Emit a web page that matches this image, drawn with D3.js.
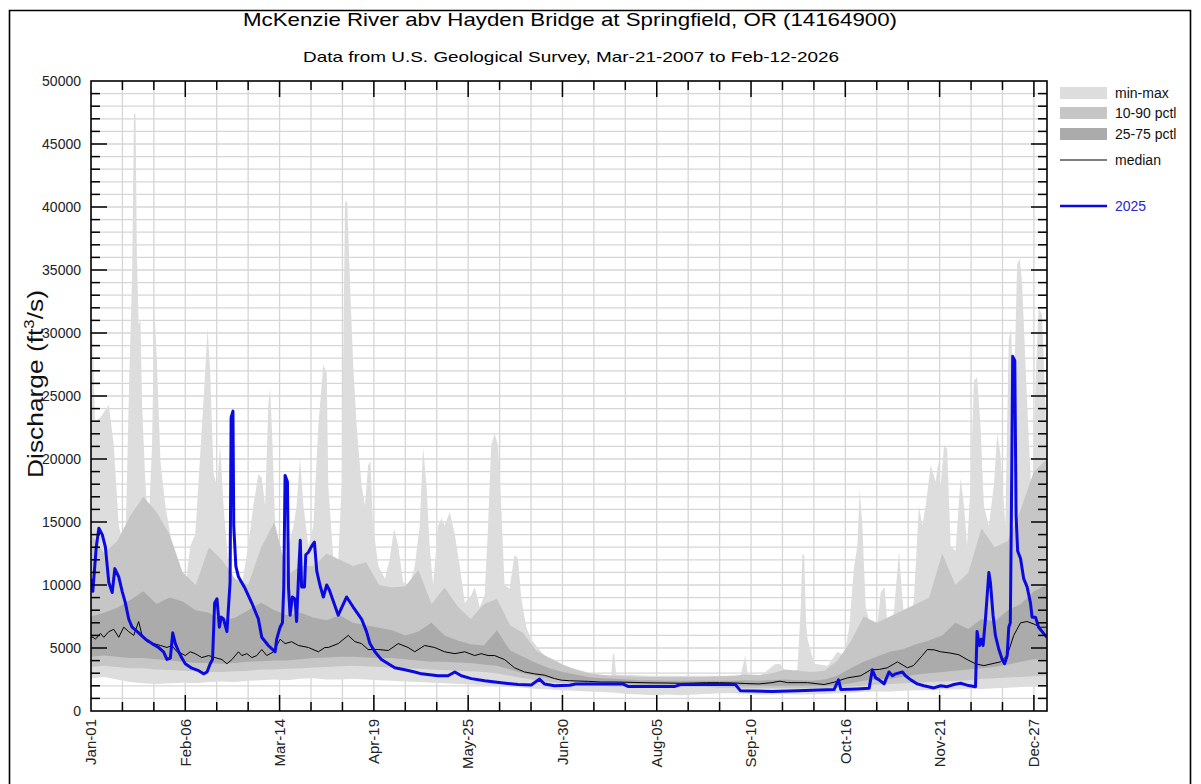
<!DOCTYPE html>
<html>
<head>
<meta charset="utf-8">
<script src="https://cdn.jsdelivr.net/npm/d3@7"></script>
<style>
  html, body { margin: 0; padding: 0; background: #fff; }
  svg { display: block; font-family: "Liberation Sans", Arial, Helvetica, sans-serif; }
</style>
</head>
<body>
<svg id="chart" width="1201" height="784"></svg>
<script>
// ---------------- DATA ----------------
const titleText = "McKenzie River abv Hayden Bridge at Springfield, OR (14164900)";
const subtitleText = "Data from U.S. Geological Survey, Mar-21-2007 to Feb-12-2026";
const yTickValues = [0, 5000, 10000, 15000, 20000, 25000, 30000, 35000, 40000, 45000, 50000];
const xTickDays = [0, 36, 72, 108, 144, 180, 216, 252, 288, 324, 360];
const xTickLabels = ["Jan-01", "Feb-06", "Mar-14", "Apr-19", "May-25", "Jun-30", "Aug-05", "Sep-10", "Oct-16", "Nov-21", "Dec-27"];
const legendLabels = ["min-max", "10-90 pctl", "25-75 pctl", "median", "2025"];

// day-of-year grid (every 5 days) for percentile statistics
const statDays = [0,5,10,15,20,25,30,35,40,45,50,55,60,65,70,75,80,85,90,95,100,105,110,115,120,125,130,135,140,145,150,155,160,165,170,175,180,185,190,195,200,205,210,215,220,225,230,235,240,245,250,255,260,265,270,275,280,285,290,295,300,305,310,315,320,325,330,335,340,345,350,355,360,365];

const minFlow = [2600,2700,2500,2300,2200,2150,2200,2250,2200,2300,2350,2300,2400,2450,2500,2450,2550,2600,2500,2500,2550,2500,2450,2400,2350,2300,2250,2200,2150,2100,2050,1950,1900,1850,1750,1700,1650,1600,1550,1500,1450,1350,1300,1250,1300,1250,1300,1350,1400,1400,1350,1300,1300,1350,1300,1300,1350,1400,1450,1500,1550,1550,1600,1650,1650,1700,1700,1750,1750,1800,1850,1900,1950,2000];

const p10 = [3500,3600,3500,3400,3400,3300,3250,3200,3150,3100,3100,3150,3200,3300,3300,3350,3400,3450,3500,3550,3600,3550,3500,3450,3400,3350,3300,3250,3200,3150,3100,3000,2800,2600,2450,2300,2200,2100,2050,2000,1950,1950,1950,1950,1950,1900,1900,1900,1850,1850,1800,1800,1800,1800,1800,1800,1800,1850,1950,2000,2100,2150,2200,2250,2300,2350,2400,2450,2550,2600,2650,2700,2750,2800];

const p25 = [4300,4400,4300,4200,4200,4100,4000,3900,3800,3800,3750,3800,3900,3950,4000,4000,4100,4200,4250,4300,4300,4250,4200,4200,4100,4000,3900,3900,3850,3800,3700,3600,3300,3000,2800,2600,2450,2350,2250,2200,2150,2150,2100,2100,2100,2100,2100,2100,2050,2050,2000,2000,2000,2000,2000,2000,2000,2050,2200,2400,2500,2550,2700,2900,3000,3100,3200,3300,3400,3500,3700,3900,4100,4100];

const p75 = [7500,7800,8200,8800,9500,8500,9000,8700,8000,7800,7200,7400,8000,8600,8000,7600,7800,7400,7200,7600,7000,6800,6600,6400,6000,6300,7000,6000,5600,5300,5200,6400,4800,4300,3800,3400,3100,2900,2700,2600,2550,2500,2450,2450,2400,2400,2400,2400,2400,2400,2450,2400,2450,2500,2450,2400,2500,2800,3400,3900,4300,4700,4900,5300,5600,6000,7000,6500,7300,7100,8000,8500,9500,10000];

const p90 = [14000,12500,13500,15500,17000,15800,14000,11000,10000,13000,12000,10500,10000,13000,15000,10800,11500,11500,12500,12000,11500,11800,10000,9800,9900,11200,8500,9800,8300,7300,8500,8900,6800,6200,4800,4200,3700,3300,3000,2850,2800,2750,2700,2700,2700,2700,2700,2700,2750,2800,2900,2850,3000,3300,3200,3100,3200,4000,5500,7500,7000,7500,8000,8500,9000,12500,10000,11000,14500,13000,13500,16000,19000,20000];

// daily median: [day of year, discharge]
const medianFlow = [[0,5850],[0.8,5850],[1.7,5700],[3.6,6160],[4.9,5850],[6.8,6300],[8.7,6480],[10.6,5850],[12.5,6650],[14.4,6300],[16.3,6000],[18.2,7100],[19.5,6000],[21.4,5500],[23.9,5350],[26.5,5200],[29,5040],[30.9,5200],[32.8,4700],[34.7,4550],[36,4400],[37.9,4700],[39.8,4550],[42.3,4240],[44.9,4400],[47.4,4240],[50,4080],[51.9,3750],[53.8,4080],[56.3,4700],[57.6,4400],[59.5,4550],[61.4,4240],[63.3,4400],[65.2,4880],[67.1,4400],[69.7,4700],[72.2,5700],[74.1,5350],[76.6,5500],[79.2,5200],[83,5040],[86.8,4700],[89.3,5040],[90.6,5040],[94.4,5350],[98.2,6000],[100.8,5500],[103.3,5350],[105.8,4880],[109.7,4880],[113.5,4800],[117.3,5350],[121.1,5040],[123.6,4700],[127.4,5200],[131.2,5040],[135,4700],[138.9,4550],[142.7,4700],[146.5,4400],[149,4550],[151.6,4400],[154.1,4400],[157.9,4080],[161.7,3430],[165.5,3100],[169.3,2950],[173.1,2850],[177,2570],[179.5,2450],[182.8,2400],[190,2350],[195,2300],[200,2300],[205,2280],[210,2250],[215,2230],[220,2220],[225,2200],[230,2220],[235,2250],[240,2250],[245,2230],[250,2180],[255,2150],[260,2250],[263,2370],[266,2250],[270,2250],[273.6,2250],[279.9,2100],[284,2300],[288.8,2630],[293.9,2800],[297.7,3270],[301,3300],[304,3430],[307.9,3900],[311.7,3430],[314,3600],[317.4,4400],[319.3,4880],[322,4850],[324.4,4700],[328,4600],[331.4,4460],[334.5,4080],[337.7,3750],[340.9,3600],[344,3750],[347.2,3900],[349.8,4400],[352.3,6000],[354.9,7000],[357.4,7100],[360,6900],[362.5,6650],[365,6650]];

// daily maximum peaks: [day of year, discharge]
const maxFlow = [[0,22000],[0.6,31000],[1.5,23000],[3.6,23300],[6.8,24300],[8.7,21100],[10.6,14700],[13.1,12700],[14.6,26400],[15.7,34600],[16.4,47400],[17.0,47400],[17.5,36500],[18.2,30700],[18.9,31000],[19.5,24300],[20.8,17900],[22,14700],[23.3,21100],[24.2,32000],[25.2,27500],[26.5,19800],[28.4,16300],[31,13100],[33.5,10500],[36,9850],[37.9,13100],[39.8,14000],[41.7,20400],[43.6,26900],[44.5,30400],[45.5,26900],[46.8,18800],[48.1,17900],[49.3,21100],[50.6,16300],[52.5,11500],[53.8,10200],[57.6,10000],[60,13100],[62,16300],[63.9,18800],[65.2,18500],[66.5,16300],[67.7,24300],[68.4,25600],[69.3,21100],[70.3,14700],[72.2,11500],[74.1,12000],[75.4,13100],[77.3,14700],[78.5,16300],[79.8,20100],[81.1,16300],[83,13100],[84.9,14700],[86.8,22700],[88.7,27500],[90,26800],[90.6,17900],[92.5,12100],[94.4,12000],[95.7,17900],[97,40300],[97.8,40500],[98.9,33900],[100.1,27500],[101.4,22700],[103.3,17900],[104.6,16300],[105.8,19500],[106.7,19800],[107.7,14700],[109.7,11500],[112.2,10500],[114.1,12100],[115.7,14500],[117.3,13100],[119.2,10200],[121.7,10000],[123.6,11500],[125.5,14700],[126.8,20900],[128.1,17900],[129.3,13100],[130.6,10000],[132.5,14700],[133.8,15300],[135,14700],[137,15800],[138.9,14000],[140.8,11500],[142.7,8600],[145.2,9200],[146.5,9850],[148.4,8250],[150.3,9200],[151.6,14700],[152.8,21100],[154.1,22000],[155.4,21100],[156.6,16300],[157.9,10000],[159.8,9700],[161.7,12400],[163,12100],[164.3,8900],[166.2,6650],[168.1,5700],[170.7,5000],[173.1,4400],[176.9,4080],[179.5,3750],[182.8,3430],[186,3270],[192,2950],[198.6,2800],[199.3,4560],[199.8,4500],[200.5,2900],[213.8,2800],[226.5,2800],[239.2,2800],[248,2800],[249.8,4400],[250.8,2900],[255.7,2800],[261,3700],[263,3750],[266,3000],[269.7,3300],[271,8250],[271.6,12500],[272.3,12300],[273,7000],[273.6,5700],[276.1,3750],[281.2,3600],[285,4700],[287.6,4400],[289.5,6650],[290.7,9850],[291.4,11500],[292.6,13100],[293.5,17600],[294.5,14700],[295.8,8250],[297.7,6650],[300.3,7000],[301.5,9400],[303,9850],[304.7,5000],[306.6,8000],[308.5,12700],[309.8,8900],[311.7,5000],[314.2,8900],[316.1,16300],[317.4,14700],[318.7,16300],[320.6,19500],[322.5,18200],[323.5,19800],[324.4,17900],[325.7,21100],[326.9,20800],[328.2,13100],[330.1,12700],[332,18500],[333.3,16300],[334.5,13100],[335.8,17900],[337.1,26200],[338.3,26500],[339.6,22700],[340.9,16300],[342.8,14700],[344.7,17900],[346,22000],[347.2,20400],[349.1,14700],[350.4,29400],[351.3,30400],[352.3,24300],[353.6,35500],[354.6,35900],[355.5,33900],[356.8,27500],[358,21700],[359.3,16300],[360.6,25900],[361.8,32000],[363.1,31400],[364.4,24300],[365,20000]];

// 2025 daily discharge: [day of year, discharge]
const flow2025 = [[0,10500],[0.7,9500],[2.0,13000],[3.0,14500],[4.3,14000],[5.5,13000],[6.8,10200],[8.1,9400],[9.1,11300],[10.6,10650],[11.9,9500],[13.1,8600],[14.4,7300],[15.7,6650],[18.2,6200],[20.8,5700],[23.3,5350],[25.8,5040],[27.7,4700],[29.0,4100],[30.3,4200],[31.2,6200],[32.2,5350],[33.5,4700],[34.7,4200],[36,3750],[38.5,3400],[41.1,3200],[43,2950],[44.3,3100],[45.5,3750],[46.4,4080],[47.2,8570],[48.1,8900],[49,6650],[49.7,7450],[50.6,7300],[51.9,6300],[53.1,10200],[53.5,23300],[54.2,23800],[54.5,14700],[55.3,11500],[56.3,10650],[58.9,9700],[61.4,8570],[63.9,7300],[65.2,5850],[67.7,5200],[70.3,4700],[70.9,5700],[72.2,6650],[73.1,7000],[73.6,9850],[74.1,18700],[75,18200],[75.4,9850],[76,7600],[76.9,9050],[77.9,8900],[78.5,7100],[79.4,11500],[79.9,13550],[80.4,9850],[81.5,9850],[82,12400],[83,12600],[84.3,13100],[85.3,13400],[86.2,11100],[87.4,10000],[88.7,9050],[90,10000],[91,9600],[94.4,7600],[97.6,9050],[100.1,8250],[103.3,7300],[105.2,6300],[106.5,5350],[108.4,4700],[110.9,4080],[113.5,3750],[116,3430],[119.8,3270],[123.6,3100],[126.2,2950],[132.5,2800],[136.3,2800],[138.9,3100],[141.4,2800],[145.2,2570],[150.3,2400],[156.6,2250],[163,2100],[168.1,2070],[171.2,2530],[173.1,2150],[177,2000],[182.8,2050],[185,2150],[203,2150],[205,1950],[223,1950],[225,2100],[246,2100],[248,1600],[260,1550],[270,1600],[283.7,1700],[285.4,2470],[286.3,1700],[292.6,1750],[297.1,1800],[298.3,3270],[299.6,2630],[300.9,2470],[302.8,2150],[304.7,3100],[306,2800],[307.2,2950],[309.8,3100],[311,2800],[313,2470],[315.5,2150],[318,2000],[321.8,1830],[324.4,2000],[326.9,1930],[329.5,2100],[332,2200],[334.5,2050],[337.7,1930],[338.3,6300],[339.2,5200],[339.9,5700],[340.6,5200],[341.5,7300],[342.8,11000],[343.4,10200],[344.4,7600],[345.3,6000],[346.6,4900],[347.9,4080],[348.8,3750],[349.8,4400],[350.4,6650],[351,7000],[351.4,15600],[351.9,28150],[352.7,27800],[353.2,15500],[353.8,12700],[354.9,12100],[356.1,10500],[357.4,9850],[358.7,8570],[359.3,7450],[360.6,7450],[361.8,6650],[363.7,6160],[365,5850]];

// ---------------- STYLE / LAYOUT ----------------
const colMinMax = "#dddddd", col1090 = "#c6c6c6", col2575 = "#ababab";
const blue = "#0a0ae0";
const plot = { left: 91, right: 1047, top: 81, bottom: 711 };

const svg = d3.select("#chart");
const x = d3.scaleLinear().domain([0, 365]).range([plot.left, plot.right]);
const y = d3.scaleLinear().domain([0, 50000]).range([plot.bottom, plot.top]);

// outer frame
svg.append("path")
  .attr("d", "M9.5,790 L9.5,10.5 L1190.5,10.5 L1190.5,790")
  .attr("fill", "none").attr("stroke", "#000").attr("stroke-width", 1.6);

// titles
svg.append("text").attr("x", 570).attr("y", 26).attr("text-anchor", "middle")
  .attr("font-size", 19).attr("textLength", 654).attr("lengthAdjust", "spacingAndGlyphs")
  .text(titleText);
svg.append("text").attr("x", 571).attr("y", 62).attr("text-anchor", "middle")
  .attr("font-size", 15).attr("textLength", 536).attr("lengthAdjust", "spacingAndGlyphs")
  .text(subtitleText);

// gridlines
const grid = svg.append("g");
grid.selectAll("line.v").data(d3.range(12, 365, 12)).join("line")
  .attr("x1", d => x(d)).attr("x2", d => x(d)).attr("y1", plot.top).attr("y2", plot.bottom)
  .attr("stroke", "#d6d6d6").attr("stroke-width", 1.3);
grid.selectAll("line.h").data(d3.range(1000, 50000, 1000)).join("line")
  .attr("x1", plot.left).attr("x2", plot.right).attr("y1", d => y(d)).attr("y2", d => y(d))
  .attr("stroke", "#d6d6d6").attr("stroke-width", 1.3);

// clip to plot area
svg.append("clipPath").attr("id", "pc").append("rect")
  .attr("x", plot.left).attr("y", plot.top).attr("width", plot.right - plot.left).attr("height", plot.bottom - plot.top);
const bands = svg.append("g").attr("clip-path", "url(#pc)");

// min-max band (max peaks forward, min back)
const lineGen = d3.line().x(d => x(d[0])).y(d => y(d[1]));
const minPairs = statDays.map((d, i) => [d, minFlow[i]]).reverse();
bands.append("path").attr("d", lineGen(maxFlow.concat(minPairs)) + "Z").attr("fill", colMinMax);

const area = (lo, hi) => d3.area().x((d, i) => x(statDays[i])).y0((d, i) => y(lo[i])).y1((d, i) => y(hi[i]));
bands.append("path").attr("d", area(p10, p90)(statDays)).attr("fill", col1090);
bands.append("path").attr("d", area(p25, p75)(statDays)).attr("fill", col2575);

// median
bands.append("path").attr("d", lineGen(medianFlow))
  .attr("fill", "none").attr("stroke", "#000").attr("stroke-width", 1);

// 2025
bands.append("path").attr("d", lineGen(flow2025))
  .attr("fill", "none").attr("stroke", blue).attr("stroke-width", 3).attr("stroke-linejoin", "round");

// axes frame
svg.append("rect").attr("x", plot.left).attr("y", plot.top)
  .attr("width", plot.right - plot.left).attr("height", plot.bottom - plot.top)
  .attr("fill", "none").attr("stroke", "#000").attr("stroke-width", 1.6);

// ticks
const tk = svg.append("g").attr("stroke", "#000").attr("stroke-width", 1.5);
d3.range(1000, 50000, 1000).forEach(v => {
  const L = v % 5000 === 0 ? 16 : 9;
  tk.append("line").attr("x1", plot.left).attr("x2", plot.left + L).attr("y1", y(v)).attr("y2", y(v));
  tk.append("line").attr("x1", plot.right).attr("x2", plot.right - L).attr("y1", y(v)).attr("y2", y(v));
});
d3.range(12, 365, 12).forEach(d => {
  const L = d % 36 === 0 ? 16 : 9;
  tk.append("line").attr("x1", x(d)).attr("x2", x(d)).attr("y1", plot.bottom).attr("y2", plot.bottom - L);
  tk.append("line").attr("x1", x(d)).attr("x2", x(d)).attr("y1", plot.top).attr("y2", plot.top + L);
});

// tick labels
svg.append("g").selectAll("text").data(yTickValues).join("text")
  .attr("x", 81).attr("y", d => y(d)).attr("dy", "0.35em").attr("text-anchor", "end")
  .attr("font-size", 14).attr("fill", "#222").text(d => d);
svg.append("g").selectAll("text").data(xTickDays).join("text")
  .attr("transform", d => `translate(${x(d)},719) rotate(-90)`)
  .attr("dy", "0.35em").attr("text-anchor", "end")
  .attr("font-size", 15).attr("fill", "#222").text((d, i) => xTickLabels[i]);

// y axis title
const yt = svg.append("text").attr("transform", "translate(43,384) rotate(-90)")
  .attr("text-anchor", "middle").attr("font-size", 22).attr("fill", "#111")
  .attr("textLength", 188).attr("lengthAdjust", "spacingAndGlyphs");
yt.append("tspan").text("Discharge (ft");
yt.append("tspan").attr("font-size", 14).attr("dy", -9).text("3");
yt.append("tspan").attr("dy", 9).text("/s)");

// legend
const lg = svg.append("g");
const swCols = [colMinMax, col1090, col2575];
[93, 113, 134].forEach((cy, i) => {
  lg.append("rect").attr("x", 1060).attr("y", cy - 6).attr("width", 47).attr("height", 12).attr("fill", swCols[i]);
  lg.append("text").attr("x", 1115).attr("y", cy).attr("dy", "0.35em").attr("font-size", 14).attr("fill", "#111").text(legendLabels[i]);
});
lg.append("line").attr("x1", 1060).attr("x2", 1107).attr("y1", 160).attr("y2", 160).attr("stroke", "#000").attr("stroke-width", 1);
lg.append("text").attr("x", 1115).attr("y", 160).attr("dy", "0.35em").attr("font-size", 14).attr("fill", "#111").text(legendLabels[3]);
lg.append("line").attr("x1", 1060).attr("x2", 1107).attr("y1", 206).attr("y2", 206).attr("stroke", blue).attr("stroke-width", 2.5);
lg.append("text").attr("x", 1115).attr("y", 206).attr("dy", "0.35em").attr("font-size", 14).attr("fill", "#2626d0").text(legendLabels[4]);
</script>
</body>
</html>
